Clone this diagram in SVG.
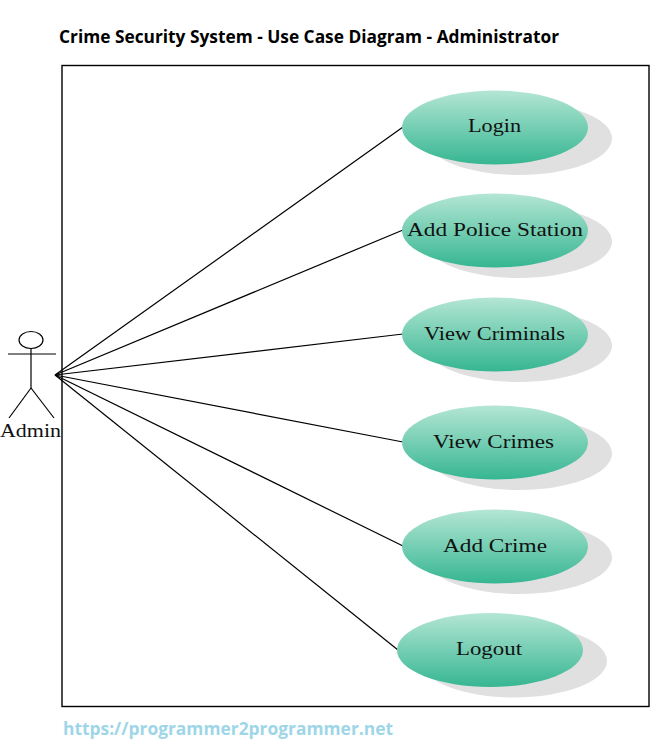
<svg xmlns="http://www.w3.org/2000/svg" width="658" height="752" viewBox="0 0 658 752">
<style>
.ln{stroke:#000;stroke-width:1.2;fill:none}
.uc{fill:url(#g)}
.sh{fill:#e0e0e0}
.lb{font-family:"Liberation Serif",serif;font-size:18.500px;fill:#111;text-anchor:middle}
.hd{font-family:"Open Sans","Noto Sans",sans-serif;font-weight:700}
</style>
<defs><linearGradient id="g" x1="0" y1="0" x2="0" y2="1"><stop offset="0" stop-color="#b4e6d4"/><stop offset="1" stop-color="#36b692"/></linearGradient></defs>
<rect width="658" height="752" fill="#fff"/>
<text id="title" class="hd" x="59" y="43" font-size="17.300" fill="#000" textLength="500" lengthAdjust="spacingAndGlyphs">Crime Security System - Use Case Diagram - Administrator</text>
<rect id="boundary" x="62" y="65.500" width="587" height="641" fill="none" stroke="#000" stroke-width="1.400"/>
<g id="connectors" class="ln">
<line x1="55" y1="375" x2="403" y2="127"/>
<line x1="55" y1="375" x2="403" y2="230"/>
<line x1="55" y1="375" x2="403" y2="334"/>
<line x1="55" y1="375" x2="403" y2="442"/>
<line x1="55" y1="375" x2="403" y2="546"/>
<line x1="55" y1="375" x2="398" y2="650"/>
</g>
<g id="actor">
<g class="ln"><ellipse cx="31" cy="340" rx="12" ry="8.500"/><line x1="8" y1="354" x2="56" y2="354"/><line x1="31" y1="348" x2="31" y2="388"/><line x1="31" y1="388" x2="9" y2="418"/><line x1="31" y1="388" x2="54" y2="418"/></g>
<text class="lb" x="30.500" y="437" textLength="61" lengthAdjust="spacingAndGlyphs">Admin</text>
</g>
<g id="uc-login"><ellipse class="sh" cx="519" cy="138.500" rx="93" ry="36.500"/><ellipse class="uc" cx="495" cy="127.500" rx="93" ry="37"/><text class="lb" x="494.500" y="132" textLength="53" lengthAdjust="spacingAndGlyphs">Login</text></g>
<g id="uc-add-police-station"><ellipse class="sh" cx="519" cy="241.500" rx="93" ry="36.500"/><ellipse class="uc" cx="495" cy="230.500" rx="93" ry="37"/><text class="lb" x="495" y="236" textLength="176" lengthAdjust="spacingAndGlyphs">Add Police Station</text></g>
<g id="uc-view-criminals"><ellipse class="sh" cx="519" cy="345.500" rx="93" ry="36.500"/><ellipse class="uc" cx="495" cy="334.500" rx="93" ry="37"/><text class="lb" x="494.500" y="339.500" textLength="141" lengthAdjust="spacingAndGlyphs">View Criminals</text></g>
<g id="uc-view-crimes"><ellipse class="sh" cx="519" cy="453.500" rx="93" ry="36.500"/><ellipse class="uc" cx="495" cy="442.500" rx="93" ry="37"/><text class="lb" x="493.500" y="447.500" textLength="121" lengthAdjust="spacingAndGlyphs">View Crimes</text></g>
<g id="uc-add-crime"><ellipse class="sh" cx="519" cy="557.500" rx="93" ry="36.500"/><ellipse class="uc" cx="495" cy="546.500" rx="93" ry="37"/><text class="lb" x="495" y="551.500" textLength="104" lengthAdjust="spacingAndGlyphs">Add Crime</text></g>
<g id="uc-logout"><ellipse class="sh" cx="514" cy="661" rx="93" ry="36.500"/><ellipse class="uc" cx="490" cy="650" rx="93" ry="37"/><text class="lb" x="489" y="655" textLength="66" lengthAdjust="spacingAndGlyphs">Logout</text></g>
<text id="url" class="hd" x="63" y="735" font-size="17.500" fill="#9ed6e8" textLength="330" lengthAdjust="spacingAndGlyphs">https://programmer2programmer.net</text>
</svg>
